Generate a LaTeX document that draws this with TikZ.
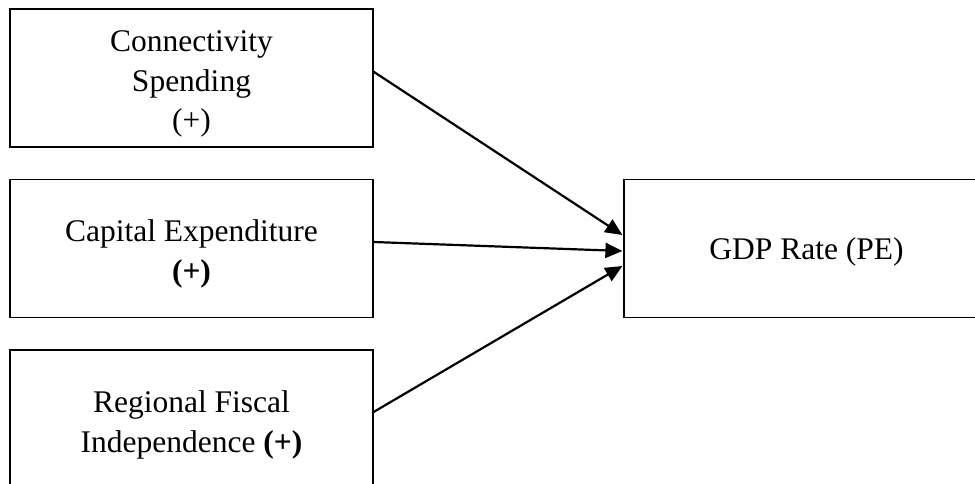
\documentclass[tikz,border=0pt]{standalone}
\usepackage{fontspec}
\setmainfont{Liberation Serif}
\usetikzlibrary{arrows.meta,calc}
\begin{document}
\begin{tikzpicture}[x=1pt,y=-1pt,
  box/.style={draw=black,line width=1.2pt,minimum width=363pt,minimum height=138pt,inner sep=0pt},
  txt/.style={inner sep=0pt,align=center,font=\fontsize{31.5pt}{39.5pt}\selectfont},
  link/.style={line width=2.2pt,-{Triangle[length=17pt,width=15pt]}}]
\path[use as bounding box] (0,0) rectangle (975,484);
\clip (0,0) rectangle (975,484);
\node[box] (cs) at (191.5,78) {};
\node[box] (ce) at (191.5,248.5) {};
\node[box] (rf) at (191.5,419) {};
\node[box,minimum width=365pt] (gdp) at (806.5,248.5) {};
\node[txt] (cst) at ($(cs.center)+(0,6)$) {Connectivity\\Spending\\(+)};
\node[txt] (cet) at ($(ce.center)+(0,5.5)$) {Capital Expenditure\\\textbf{(+)}};
\node[txt] (rft) at ($(rf.center)+(0,6)$) {Regional Fiscal\\Independence \textbf{(+)}};
\node[txt] (gdpt) at ($(gdp.center)+(0,3)$) {GDP Rate (PE)};
\draw[link] ($(cs.east)+(0,-6.3)$) -- ($(gdp.west)+(-1,-13.5)$);
\draw[link] ($(ce.east)+(0,-6.5)$) -- ($(gdp.west)+(-1,2.5)$);
\draw[link] ($(rf.east)+(0,-7)$) -- ($(gdp.west)+(-1,17.5)$);
\end{tikzpicture}
\end{document}
